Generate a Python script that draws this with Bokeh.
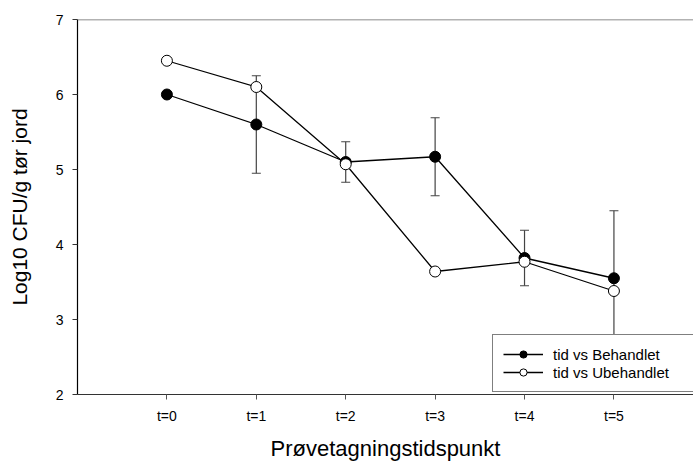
from bokeh.plotting import figure
from bokeh.models import ColumnDataSource, Whisker, FixedTicker, Legend, LegendItem, TeeHead, Span
from bokeh.embed import file_html
from bokeh.resources import INLINE

# Data
time_points = [0, 1, 2, 3, 4, 5]
time_labels = ["t=0", "t=1", "t=2", "t=3", "t=4", "t=5"]
behandlet = [6.00, 5.60, 5.10, 5.17, 3.82, 3.55]
behandlet_err = [0.03, 0.65, 0.27, 0.52, 0.37, 0.90]
ubehandlet = [6.45, 6.10, 5.07, 3.64, 3.77, 3.38]
y_max = 7

FONT = "Liberation Sans"

src_b = ColumnDataSource(dict(
    x=time_points, y=behandlet,
    upper=[v + e for v, e in zip(behandlet, behandlet_err)],
    lower=[v - e for v, e in zip(behandlet, behandlet_err)],
))
src_u = ColumnDataSource(dict(x=time_points, y=ubehandlet))

p = figure(width=693, height=463, x_range=(-1.0, 5.89), y_range=(2, y_max),
           output_backend="svg", toolbar_location=None,
           min_border_left=77, min_border_right=0, min_border_top=19, min_border_bottom=69)

p.grid.visible = False
p.outline_line_color = None
p.background_fill_color = "white"
p.border_fill_color = "white"

# top frame line
p.add_layout(Span(location=y_max, dimension="width", line_color="#666666", line_width=1.5))

# Lines
l_b = p.line("x", "y", source=src_b, line_color="black", line_width=1.3)
l_u = p.line("x", "y", source=src_u, line_color="black", line_width=1.3)

# Error bars
wh = Whisker(base="x", upper="upper", lower="lower", source=src_b, dimension="height",
             line_color="#444444", line_width=1.2,
             upper_head=TeeHead(size=9, line_color="#444444", line_width=1.2),
             lower_head=TeeHead(size=9, line_color="#444444", line_width=1.2))
p.add_layout(wh)

# Markers
m_b = p.scatter("x", "y", source=src_b, size=11, fill_color="black", line_color="black", line_width=1)
m_u = p.scatter("x", "y", source=src_u, size=11, fill_color="white", line_color="black", line_width=1)

# Axes
xa = p.xaxis[0]
xa.ticker = FixedTicker(ticks=time_points)
xa.major_label_overrides = {t: lab for t, lab in zip(time_points, time_labels)}
xa.major_label_text_font = FONT
xa.major_label_text_font_size = "14px"
xa.major_label_text_color = "black"
xa.major_label_standoff = 8
xa.major_tick_out = 5
xa.major_tick_in = 0
xa.minor_tick_line_color = None
xa.major_tick_line_color = "#555555"
xa.axis_line_color = "#333333"
xa.axis_line_width = 1.2
xa.axis_label = "Prøvetagningstidspunkt"
xa.axis_label_text_font = FONT
xa.axis_label_text_font_size = "22px"
xa.axis_label_text_font_style = "normal"
xa.axis_label_text_color = "black"
xa.axis_label_standoff = 9

ya = p.yaxis[0]
ya.ticker = FixedTicker(ticks=[2, 3, 4, 5, 6, 7])
ya.major_label_text_font = FONT
ya.major_label_text_font_size = "14px"
ya.major_label_text_color = "black"
ya.major_label_standoff = 9
ya.major_tick_out = 5
ya.major_tick_in = 0
ya.minor_tick_line_color = None
ya.major_tick_line_color = "#333333"
ya.axis_line_color = "black"
ya.axis_line_width = 1.2
ya.axis_label = "Log10 CFU/g tør jord"
ya.axis_label_text_font = FONT
ya.axis_label_text_font_size = "21px"
ya.axis_label_text_font_style = "normal"
ya.axis_label_text_color = "black"
ya.axis_label_standoff = 22

# Legend
legend = Legend(items=[
    LegendItem(label="tid vs Behandlet", renderers=[l_b, m_b]),
    LegendItem(label="tid vs Ubehandlet", renderers=[l_u, m_u]),
], location=(415, 2))
legend.margin = 0
legend.padding = 10
legend.spacing = 0
legend.glyph_width = 40
legend.glyph_height = 18
legend.label_height = 18
legend.label_width = 170
legend.label_standoff = 10
legend.label_text_font = FONT
legend.label_text_font_size = "15px"
legend.label_text_color = "black"
legend.border_line_color = "black"
legend.border_line_width = 1
legend.background_fill_color = "white"
legend.background_fill_alpha = 1.0
p.add_layout(legend, "center")

open("out.html", "w").write(file_html(p, INLINE))
